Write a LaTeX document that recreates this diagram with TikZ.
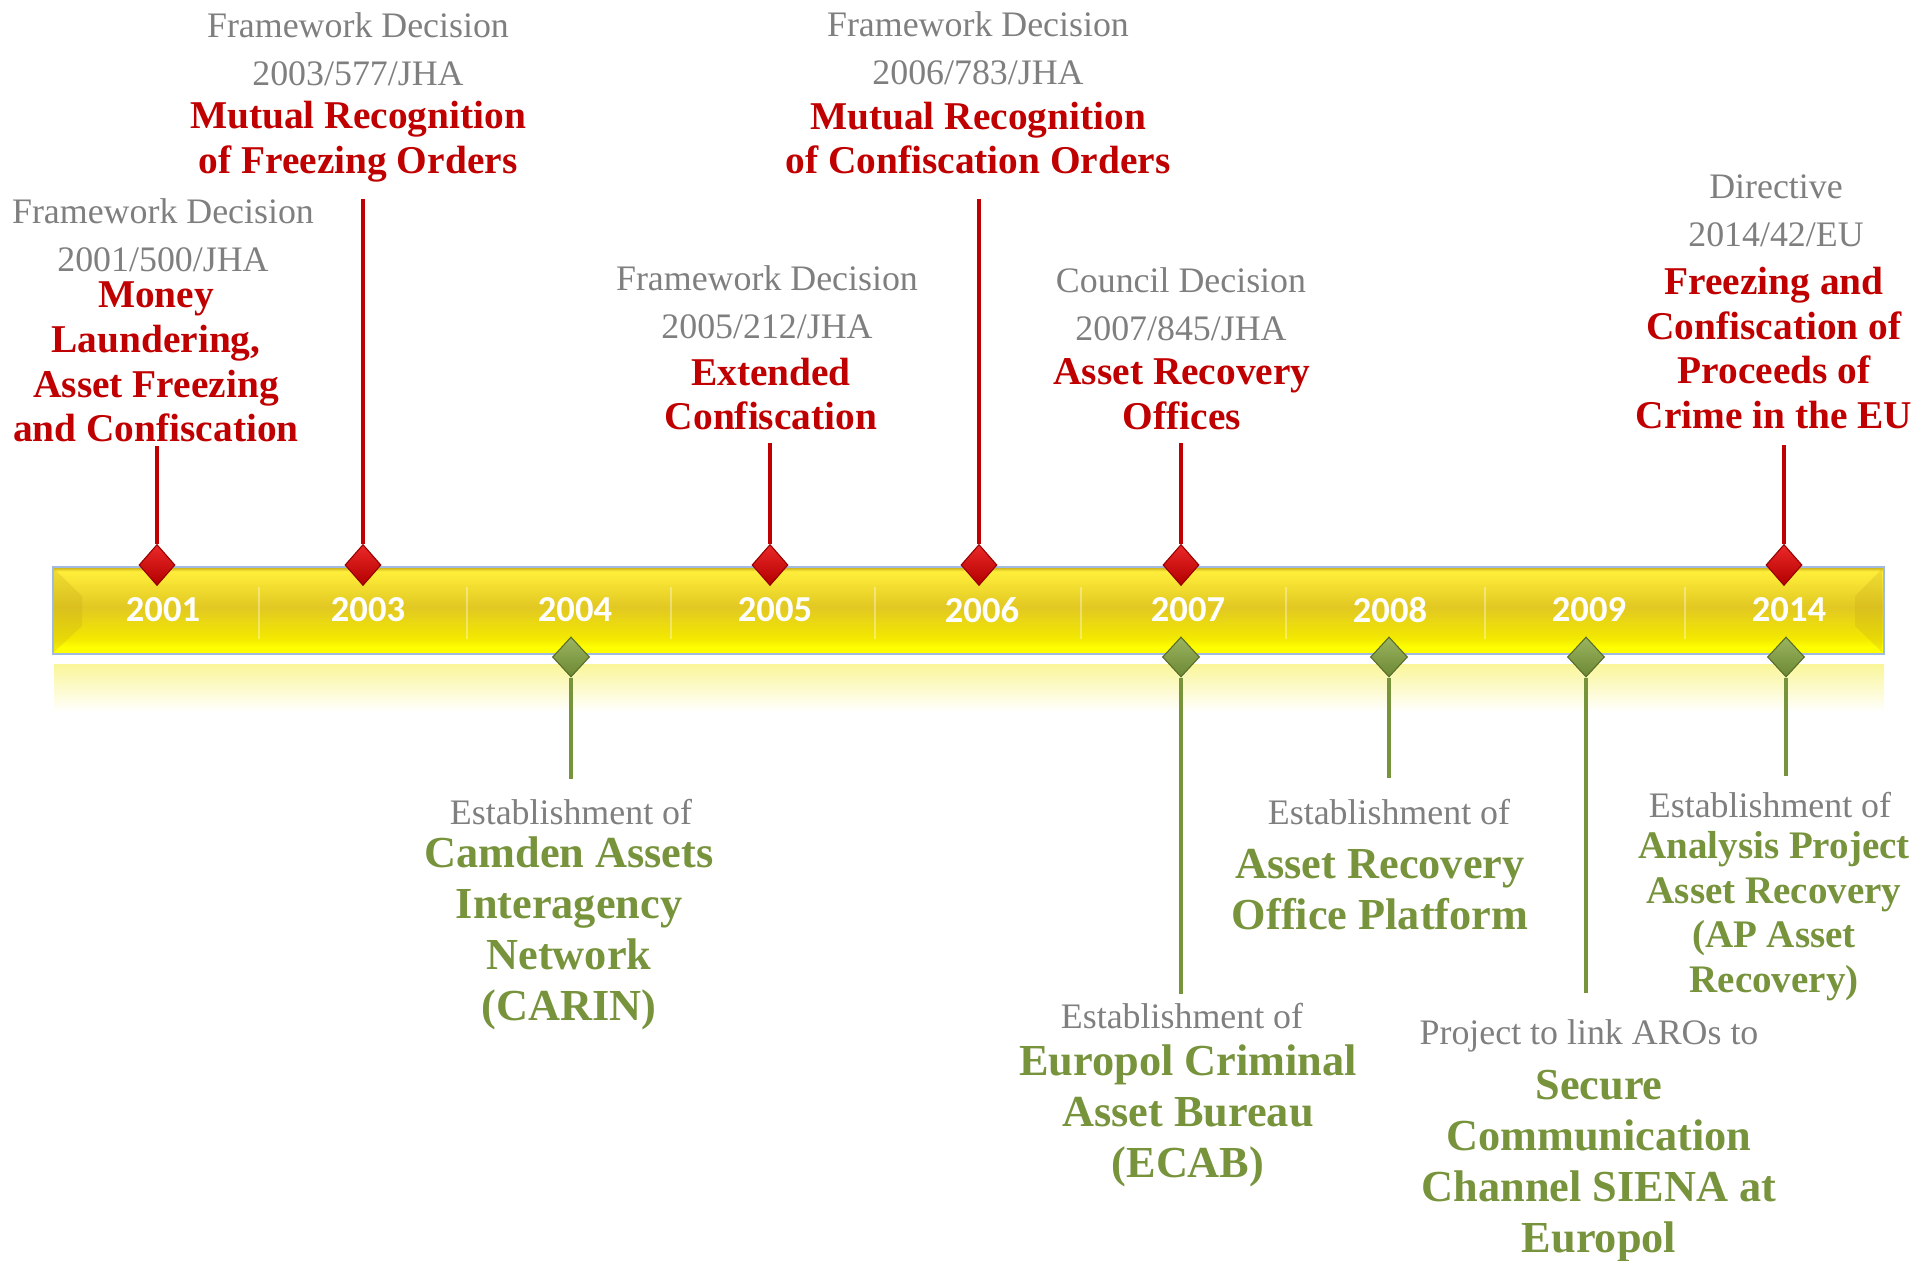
\documentclass[tikz,border=0pt]{standalone}
\usepackage{fontspec}
\setmainfont{Liberation Serif}
\newfontfamily\yearfont{Carlito}
\usetikzlibrary{shapes.geometric}

\definecolor{lawred}{RGB}{192,0,0}
\definecolor{bodygreen}{RGB}{119,147,60}
\definecolor{notegray}{RGB}{127,127,127}
\definecolor{baredge}{RGB}{196,168,24}
\definecolor{bartop}{RGB}{255,238,58}
\definecolor{barmid}{RGB}{226,200,34}
\definecolor{barlow}{RGB}{243,233,0}
\definecolor{barrim}{RGB}{255,255,0}
\definecolor{barframe}{RGB}{160,186,224}
\definecolor{reflect}{RGB}{250,246,155}

\pgfdeclareverticalshading{barshade}{100bp}{color(0bp)=(barrim); color(25bp)=(barrim); color(29bp)=(barrim); color(34bp)=(barlow); color(52bp)=(barmid); color(72.5bp)=(bartop); color(75bp)=(baredge); color(100bp)=(baredge)}

\begin{document}
\begin{tikzpicture}
        [
            x=0.01cm, y=-0.01cm,
            note/.style={text=notegray, align=center, inner sep=0pt, font=\fontsize{10.2}{13.6}\selectfont},
            lawtitle/.style={text=lawred, align=center, inner sep=0pt, font=\bfseries\fontsize{11.2}{12.7}\selectfont},
            body/.style={text=bodygreen, align=center, inner sep=0pt, font=\bfseries\fontsize{12.6}{14.5}\selectfont},
            bodysmall/.style={text=bodygreen, align=center, inner sep=0pt, font=\bfseries\fontsize{11.1}{12.7}\selectfont},
            yearlabel/.style={text=white, inner sep=0pt, font=\yearfont\bfseries\fontsize{10.4}{12}\selectfont},
            redmark/.style={diamond, inner sep=0pt, minimum width=0.36cm, minimum height=0.41cm, top color={rgb,255:red,236;green,40;blue,40}, bottom color={rgb,255:red,178;green,0;blue,0}, draw={rgb,255:red,150;green,0;blue,0}, line width=0.3pt},
            greenmark/.style={diamond, inner sep=0pt, minimum width=0.37cm, minimum height=0.40cm, top color={rgb,255:red,155;green,180;blue,95}, bottom color={rgb,255:red,108;green,136;blue,52}, draw={rgb,255:red,88;green,108;blue,42}, line width=0.3pt},
            redline/.style={draw=lawred, line width=1.4pt},
            greenline/.style={draw=bodygreen, line width=1.4pt}
        ]
        \useasboundingbox (0,0) rectangle (1917,1261);

        % the bar
        \shade[top color=reflect, bottom color=white] (54,665) rectangle (1884,712);
        \shade[shading=barshade] (53,567) rectangle (1884,654);
        \fill[baredge, opacity=0.25] (54,569) -- (82,596) -- (82,626) -- (54,652) -- cycle;
        \fill[baredge, opacity=0.25] (1882,569) -- (1855,596) -- (1855,626) -- (1882,652) -- cycle;
        \draw[barframe, line width=0.5pt] (53,567) rectangle (1884,654);
        \draw[white, opacity=0.35, line width=0.6pt]
        (259,587) -- (259,639) (467,587) -- (467,639)
        (671,587) -- (671,639) (875,587) -- (875,639)
        (1081,587) -- (1081,639) (1286,587) -- (1286,639)
        (1485,587) -- (1485,639) (1685,587) -- (1685,639);

        \node[yearlabel] (y01) at (163,610) {2001};
        \node[yearlabel] (y03) at (368,610) {2003};
        \node[yearlabel] (y04) at (575,610) {2004};
        \node[yearlabel] (y05) at (775,610) {2005};
        \node[yearlabel] (y06) at (982,610) {2006};
        \node[yearlabel] (y07) at (1188,610) {2007};
        \node[yearlabel] (y08) at (1390,610) {2008};
        \node[yearlabel] (y09) at (1589,610) {2009};
        \node[yearlabel] (y14) at (1789,610) {2014};

        % legal acts above the bar
        \node[redmark] (r01) at (157,565) {};
        \node[redmark] (r03) at (363,565) {};
        \node[redmark] (r05) at (770,565) {};
        \node[redmark] (r06) at (979,565) {};
        \node[redmark] (r07) at (1181,565) {};
        \node[redmark] (r14) at (1784,565) {};
        \coordinate (re01) at (157,446);
        \coordinate (re03) at (363,199);
        \coordinate (re05) at (770,443);
        \coordinate (re06) at (979,199);
        \coordinate (re07) at (1181,443);
        \coordinate (re14) at (1784,445);
        \path[redline]
        (r01) edge (re01)
        (r03) edge (re03)
        (r05) edge (re05)
        (r06) edge (re06)
        (r07) edge (re07)
        (r14) edge (re14);

        \node[note] (n01) at (163,235) {Framework Decision\\2001/500/JHA};
        \node[lawtitle] (l01) at (156,362) {Money\\Laundering,\\Asset Freezing\\and Confiscation};
        \node[note] (n03) at (358,49) {Framework Decision\\2003/577/JHA};
        \node[lawtitle] (l03) at (358,142) {Mutual Recognition\\of Freezing Orders};
        \node[note] (n05) at (767,302) {Framework Decision\\2005/212/JHA};
        \node[lawtitle] (l05) at (771,394) {Extended\\Confiscation};
        \node[note] (n06) at (978,48) {Framework Decision\\2006/783/JHA};
        \node[lawtitle] (l06) at (978,138) {Mutual Recognition\\of Confiscation Orders};
        \node[note] (n07) at (1181,304) {Council Decision\\2007/845/JHA};
        \node[lawtitle] (l07) at (1182,394) {Asset Recovery\\Offices};
        \node[note] (n14) at (1776,211) {Directive\\2014/42/EU};
        \node[lawtitle] (l14) at (1774,348) {Freezing and\\Confiscation of\\Proceeds of\\Crime in the EU};

        % bodies below the bar
        \node[greenmark] (g04) at (571,657) {};
        \node[greenmark] (g07) at (1181,657) {};
        \node[greenmark] (g08) at (1389,657) {};
        \node[greenmark] (g09) at (1586,657) {};
        \node[greenmark] (g14) at (1786,657) {};
        \coordinate (ge04) at (571,779);
        \coordinate (ge07) at (1181,994);
        \coordinate (ge08) at (1389,778);
        \coordinate (ge09) at (1586,993);
        \coordinate (ge14) at (1786,776);
        \path[greenline]
        (g04) edge (ge04)
        (g07) edge (ge07)
        (g08) edge (ge08)
        (g09) edge (ge09)
        (g14) edge (ge14);

        \node[note] (m04) at (571,812) {Establishment of};
        \node[body] (b04) at (569,933) {Camden Assets\\Interagency\\Network\\(CARIN)};
        \node[note] (m07) at (1182,1016) {Establishment of};
        \node[body] (b07) at (1188,1116) {Europol Criminal\\Asset Bureau\\(ECAB)};
        \node[note] (m08) at (1389,812) {Establishment of};
        \node[body] (b08) at (1380,890) {Asset Recovery\\Office Platform};
        \node[note] (m09) at (1589,1036) {Project to link AROs to};
        \node[body] (b09) at (1599,1166) {Secure\\Communication\\Channel SIENA at\\Europol};
        \node[note] (m14) at (1770,805) {Establishment of};
        \node[bodysmall] (b14) at (1774,916) {Analysis Project\\Asset Recovery\\(AP Asset\\Recovery)};

    \end{tikzpicture}
\end{document}
